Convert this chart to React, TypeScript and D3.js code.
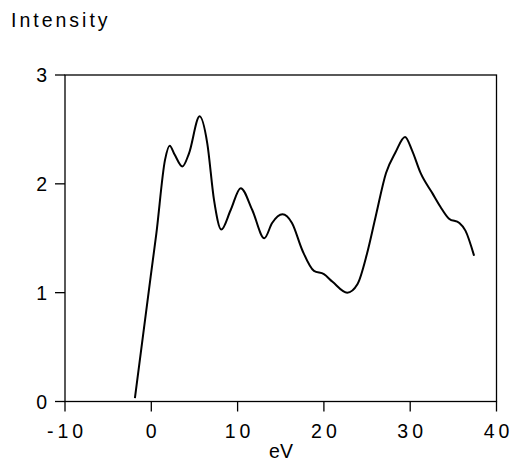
import React, { useEffect, useRef } from 'react';
import * as d3 from 'd3';

const energy = [-1.9, -0.07, 0.58, 1.59, 2.13, 2.7, 3.6, 4.37, 5.6, 6.49, 7.27, 8.11, 9.2, 10.36, 11.7, 13.1, 14.0, 15.2, 16.3, 17.5, 18.85, 20.0, 21.0, 22.7, 23.9, 25.0, 26.0, 27.2, 28.3, 29.4, 30.2, 31.2, 32.6, 33.5, 34.5, 35.7, 36.4, 37.4];
const intensity = [0.03, 1.15, 1.54, 2.22, 2.35, 2.27, 2.16, 2.28, 2.62, 2.37, 1.85, 1.58, 1.76, 1.96, 1.76, 1.5, 1.64, 1.72, 1.64, 1.39, 1.2, 1.17, 1.1, 1.0, 1.08, 1.36, 1.7, 2.1, 2.29, 2.43, 2.31, 2.1, 1.91, 1.79, 1.68, 1.64, 1.57, 1.34];
const xTicks = [-10, 0, 10, 20, 30, 40];
const yTicks = [0, 1, 2, 3];

const App = () => {
  const ref = useRef<SVGSVGElement | null>(null);

  useEffect(() => {
    const svg = d3.select(ref.current);
    svg.selectAll('*').remove();

    const x = d3.scaleLinear().domain([-10, 40]).range([65, 496.5]);
    const y = d3.scaleLinear().domain([0, 3]).range([401.5, 75]);
    const font = 'Liberation Sans, Arial, sans-serif';

    // frame
    svg.append('rect')
      .attr('x', x(-10)).attr('y', y(3))
      .attr('width', x(40) - x(-10)).attr('height', y(0) - y(3))
      .attr('fill', 'none').attr('stroke', '#000').attr('stroke-width', 1.3);

    svg.selectAll('.xt').data(xTicks).enter().append('line')
      .attr('x1', (d) => x(d)).attr('x2', (d) => x(d))
      .attr('y1', y(0)).attr('y2', y(0) + 10)
      .attr('stroke', '#000').attr('stroke-width', 1.3);

    svg.selectAll('.xl').data(xTicks).enter().append('text')
      .attr('x', (d) => x(d) + 2).attr('y', 438)
      .attr('text-anchor', 'middle')
      .attr('font-family', font).attr('font-size', 19.5)
      .attr('letter-spacing', 4)
      .text((d) => String(d));

    svg.selectAll('.yt').data(yTicks).enter().append('line')
      .attr('x1', x(-10) - 10).attr('x2', x(-10))
      .attr('y1', (d) => y(d)).attr('y2', (d) => y(d))
      .attr('stroke', '#000').attr('stroke-width', 1.3);

    svg.selectAll('.yl').data(yTicks).enter().append('text')
      .attr('x', 47).attr('y', (d) => y(d) + 7)
      .attr('text-anchor', 'end')
      .attr('font-family', font).attr('font-size', 19.5)
      .text((d) => String(d));

    svg.append('text')
      .attr('x', 281).attr('y', 458)
      .attr('text-anchor', 'middle')
      .attr('font-family', font).attr('font-size', 19.5)
      .text('eV');

    svg.append('text')
      .attr('x', 11).attr('y', 27)
      .attr('font-family', font).attr('font-size', 19.5)
      .attr('letter-spacing', 3)
      .text('Intensity');

    const pts = energy.map((e, i) => [e, intensity[i]] as [number, number]);
    const line = d3.line<[number, number]>()
      .x((d) => x(d[0]))
      .y((d) => y(d[1]))
      .curve(d3.curveMonotoneX);

    svg.append('path')
      .datum(pts)
      .attr('d', line)
      .attr('fill', 'none')
      .attr('stroke', '#000')
      .attr('stroke-width', 2);
  }, []);

  return (
    <svg ref={ref} width={512} height={461} style={{ position: 'absolute', left: 0, top: 0, background: '#fff' }} />
  );
};

export default App;
